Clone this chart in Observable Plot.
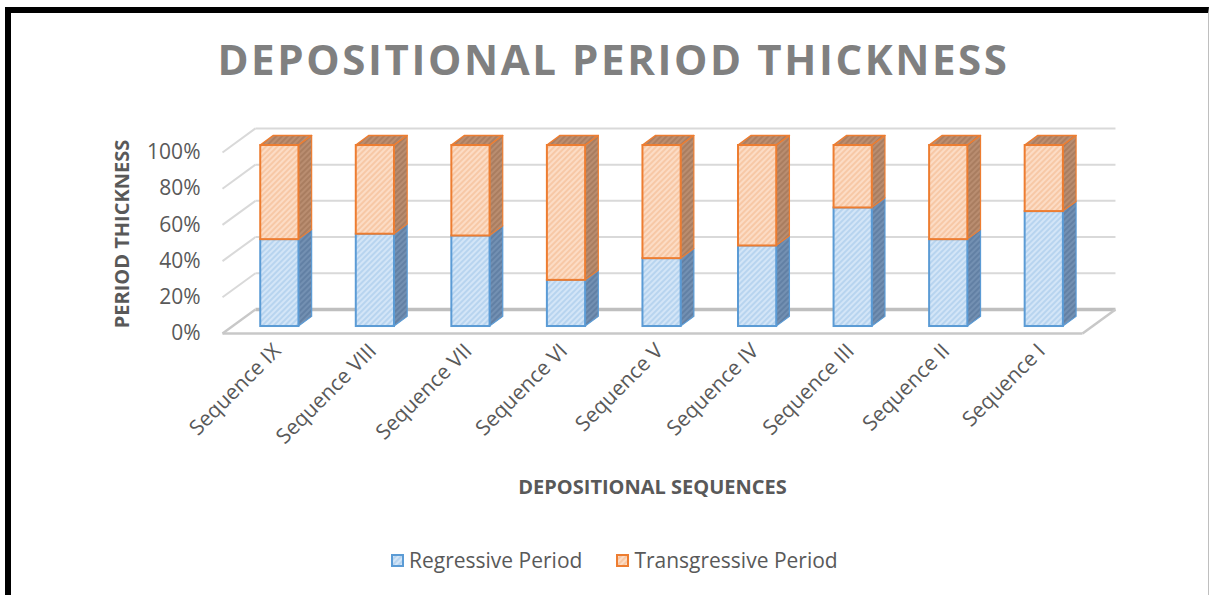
<!DOCTYPE html>
<html><head><meta charset="utf-8">
<script src="https://cdn.jsdelivr.net/npm/d3@7"></script>
<script src="https://cdn.jsdelivr.net/npm/@observablehq/plot@0.6"></script>
<style>
html,body{margin:0;padding:0;background:#fff;font-family:"Open Sans",sans-serif;}
#frame{position:absolute;left:5px;top:7px;width:1197px;height:620px;border-top:6px solid #000;border-left:6px solid #000;border-right:1px solid #bfbfbf;}
#title{position:absolute;left:8px;top:38px;width:1211px;text-align:center;font-weight:700;font-size:42px;line-height:42px;letter-spacing:2.6px;color:#808080;white-space:nowrap;}
#chart{position:absolute;left:0;top:100px;}
#legend{position:absolute;left:391px;top:548px;display:flex;align-items:center;font-size:21px;color:#595959;line-height:24px;}
.item{display:flex;align-items:center;}
.item svg{margin-right:5px;}
</style>
</head><body>
<div id="frame"></div>
<div id="title">DEPOSITIONAL PERIOD THICKNESS</div>
<div id="chart"></div>
<div id="legend"></div>
<script>
// ---- data ----
const sequences = ["Sequence IX","Sequence VIII","Sequence VII","Sequence VI","Sequence V","Sequence IV","Sequence III","Sequence II","Sequence I"];
const regressive   = [48, 51, 50, 25.5, 37.5, 44.5, 65.5, 48, 63.5];
const transgressive = [52, 49, 50, 74.5, 62.5, 55.5, 34.5, 52, 36.5];
const seriesNames = ["Regressive Period", "Transgressive Period"];
const yTicks = [0, 20, 40, 60, 80, 100];
const yTitle = "PERIOD THICKNESS";
const xTitle = "DEPOSITIONAL SEQUENCES";

// ---- pseudo-3D projection (style constants, in scale units) ----
const DX = 0.345;   // horizontal shift of the back wall (category units)
const DY = 13.3;    // vertical shift of the back wall (percent units)
const Z0 = 0.29, Z1 = 0.69; // bar front/back depth
const BW = 0.2;     // bar half-width (category units)
const n = sequences.length;

const style = {
  "Regressive Period":   {front:"url(#pBlueF)", side:"url(#pBlueS)", stroke:"#5b9bd5"},
  "Transgressive Period":{front:"url(#pOrF)",   side:"url(#pOrS)",   stroke:"#ed7d31", top:"url(#pOrT)"}
};

const segs = [];
sequences.forEach((s, i) => {
  const tot = regressive[i] + transgressive[i];
  const r = regressive[i] / tot * 100;
  segs.push({i, series: seriesNames[0], lo: 0, hi: r});
  segs.push({i, series: seriesNames[1], lo: r, hi: 100});
});
const sideFaces = segs.flatMap(d => [Z0, Z1].map(z => ({
  k: d.i + d.series, series: d.series,
  x: d.i + 0.5 + BW + z * DX, y1: d.lo + z * DY, y2: d.hi + z * DY
})));
const topFaces = segs.filter(d => d.hi >= 100).flatMap(d => [Z0, Z1].map(z => ({
  k: d.i, y: d.hi + z * DY,
  x1: d.i + 0.5 - BW + z * DX, x2: d.i + 0.5 + BW + z * DX
})));

const marks = [
  // back wall gridlines
  Plot.link(yTicks.filter(v => v > 0), {x1: DX, x2: n + DX, y1: v => v + DY, y2: v => v + DY, stroke: "#d9d9d9", strokeWidth: 2}),
  // side wall gridlines
  Plot.link(yTicks.filter(v => v > 0), {x1: 0, x2: DX, y1: v => v, y2: v => v + DY, stroke: "#d9d9d9", strokeWidth: 2}),
  // floor
  Plot.link([0], {x1: DX, x2: n + DX, y1: v => v + DY, y2: v => v + DY, stroke: "#bfbfbf", strokeWidth: 3.5}),
  Plot.link([0], {x1: 0, x2: n, y1: v => v, y2: v => v, stroke: "#c8c8c8", strokeWidth: 2.5}),
  Plot.link([0], {x1: 0, x2: DX, y1: v => v, y2: v => v + DY, stroke: "#c8c8c8", strokeWidth: 2.5}),
  Plot.link([0], {x1: n, x2: n + DX, y1: v => v, y2: v => v + DY, stroke: "#c8c8c8", strokeWidth: 2.5}),
];
for (const s of seriesNames) {
  marks.push(Plot.areaY(sideFaces.filter(d => d.series === s), {x: "x", y1: "y1", y2: "y2", z: "k", fill: style[s].side, stroke: style[s].stroke, strokeWidth: 1.2}));
}
marks.push(Plot.areaX(topFaces, {y: "y", x1: "x1", x2: "x2", z: "k", fill: style[seriesNames[1]].top, stroke: "#ed7d31", strokeWidth: 1.5}));
for (const s of seriesNames) {
  marks.push(Plot.rect(segs.filter(d => d.series === s), {
    x1: d => d.i + 0.5 - BW + Z0 * DX, x2: d => d.i + 0.5 + BW + Z0 * DX,
    y1: d => d.lo + Z0 * DY, y2: d => d.hi + Z0 * DY,
    fill: style[s].front, stroke: style[s].stroke, strokeWidth: 2
  }));
}
marks.push(
  Plot.axisY(yTicks, {tickFormat: d => d + "%", tickSize: 0, tickPadding: 22, fontSize: 21, fill: "#595959", label: null}),
  Plot.axisX(sequences.map((s, i) => i + 0.5), {tickFormat: d => sequences[Math.floor(d)], tickRotate: -45, tickSize: 0, tickPadding: 14, dx: 7, fontSize: 21, fill: "#595959", label: null}),
  Plot.text([yTitle], {frameAnchor: "left", textAnchor: "middle", lineAnchor: "middle", text: d => d, rotate: -90, dx: -100, dy: -9, fontSize: 20, fontWeight: 700, fill: "#595959"}),
  Plot.text([xTitle], {frameAnchor: "bottom", textAnchor: "middle", lineAnchor: "middle", text: d => d, dy: 154, fontSize: 20, fontWeight: 700, fill: "#595959"})
);

const svg = Plot.plot({
  width: 1211, height: 420,
  marginLeft: 222, marginRight: 129, marginTop: 52, marginBottom: 187,
  x: {type: "linear", domain: [0, n], range: [222, 1082], axis: null},
  y: {domain: [0, 100], range: [233, 52], axis: null},
  style: {fontFamily: "Open Sans", background: "transparent", overflow: "visible"},
  marks
});

// hatch patterns
const defs = d3.select(svg).insert("defs", ":first-child");
function pat(id, bg, fg, w) {
  const p = defs.append("pattern").attr("id", id).attr("patternUnits", "userSpaceOnUse")
    .attr("width", 4).attr("height", 4).attr("patternTransform", "rotate(45)");
  p.append("rect").attr("width", 4).attr("height", 4).attr("fill", bg);
  p.append("line").attr("x1", 1).attr("x2", 1).attr("y1", 0).attr("y2", 4).attr("stroke", fg).attr("stroke-width", w);
}
pat("pBlueF", "#d3e5f7", "#a9cbec", 1.3);
pat("pBlueS", "#7390b2", "#58779c", 1.3);
pat("pOrF", "#fcdcc5", "#f5bd95", 1.3);
pat("pOrS", "#b98d70", "#a07457", 1.3);
pat("pOrT", "#bc8e70", "#a37658", 1.3);
document.getElementById("chart").appendChild(svg);

// legend
const legend = d3.select("#legend");
seriesNames.forEach((s, j) => {
  const it = legend.append("div").attr("class", "item").style("margin-right", j === 0 ? "34px" : "0px");
  const sw = it.append("svg").attr("width", 13).attr("height", 13);
  sw.append("rect").attr("x", 1).attr("y", 1).attr("width", 11).attr("height", 11)
    .attr("fill", style[s].front).attr("stroke", style[s].stroke).attr("stroke-width", 2);
  it.append("span").text(s);
});
</script>
</body></html>
